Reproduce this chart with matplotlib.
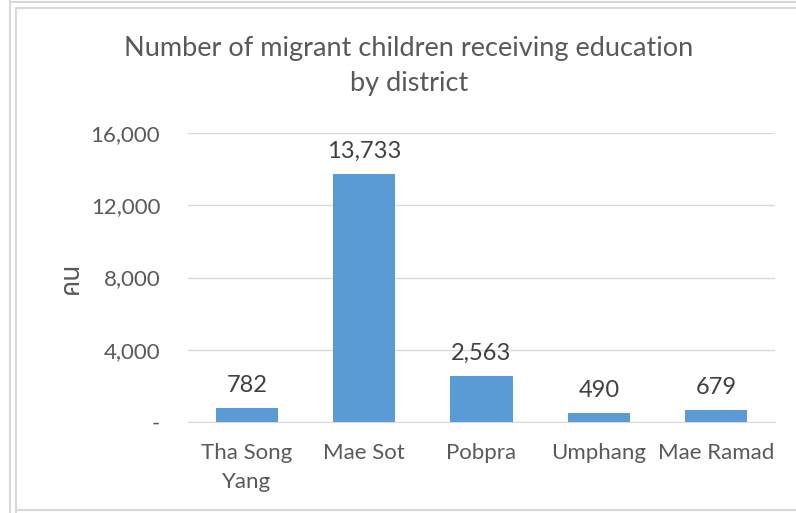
import matplotlib
matplotlib.use("Agg")
import matplotlib.pyplot as plt
from matplotlib.lines import Line2D
from matplotlib.ticker import FuncFormatter

districts = ["Tha Song\nYang", "Mae Sot", "Pobpra", "Umphang", "Mae Ramad"]
children = [782, 13733, 2563, 490, 679]
y_ticks = [0, 4000, 8000, 12000, 16000]

bar_color = "#5b9bd5"
text_color = "#595959"
grid_color = "#d9d9d9"

plt.rcParams["font.family"] = ["Lato", "Noto Sans Thai", "Noto Sans", "DejaVu Sans"]

fig = plt.figure(figsize=(7.96, 5.13), dpi=100)
ax = fig.add_axes([188 / 796, 1 - 422 / 513, (775 - 188) / 796, (422 - 133) / 513])

x = list(range(len(districts)))
bars = ax.bar(x, children, width=0.53, color=bar_color, zorder=3)

for xi, v in zip(x, children):
    ax.text(xi, v + 650, f"{v:,}", ha="center", va="bottom", fontsize=17, color="#404040")

ax.set_xlim(-0.5, len(districts) - 0.5)
ax.set_ylim(0, 16000)
ax.set_yticks(y_ticks)
ax.yaxis.set_major_formatter(FuncFormatter(lambda v, p: "-" if v == 0 else f"{int(v):,}"))
ax.set_xticks(x)
ax.set_xticklabels(districts, fontsize=16, color=text_color, linespacing=1.6)
ax.tick_params(axis="y", labelsize=16, labelcolor=text_color, length=0, pad=20)
ax.tick_params(axis="x", length=0, pad=15)
ax.grid(axis="y", color=grid_color, linewidth=1, zorder=0)
for s in ["top", "right", "left"]:
    ax.spines[s].set_visible(False)
ax.spines["bottom"].set_color(grid_color)

ax.set_ylabel("คน", fontsize=19, color=text_color, labelpad=4,
              family=["Noto Sans Thai", "Tlwg Typo", "Garuda", "Loma", "DejaVu Sans"])

fig.text(409 / 796, 1 - 66 / 513, "Number of migrant children receiving education\nby district",
         ha="center", va="center", fontsize=19.5, color=text_color, linespacing=1.5)

# outer frame lines of the screenshot
frame = dict(color="#d9d9d9", linewidth=1.5, transform=fig.transFigure)
fig.add_artist(Line2D([10 / 796, 10 / 796], [0, 1], **frame))
fig.add_artist(Line2D([16 / 796, 16 / 796], [0, 1 - 8 / 513], **frame))
fig.add_artist(Line2D([10 / 796, 1], [1 - 2 / 513, 1 - 2 / 513], **frame))
fig.add_artist(Line2D([16 / 796, 1], [1 - 8 / 513, 1 - 8 / 513], **frame))
fig.add_artist(Line2D([16 / 796, 1], [1 - 510 / 513, 1 - 510 / 513], **frame))

fig.savefig("out.png", dpi=100)
